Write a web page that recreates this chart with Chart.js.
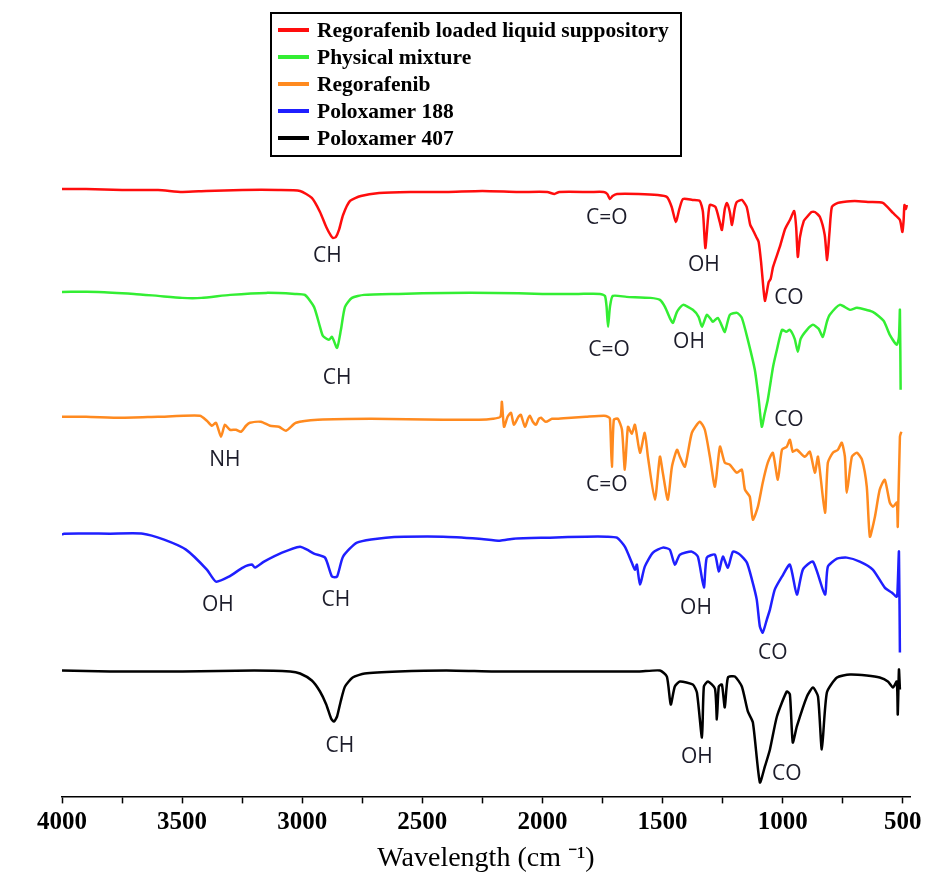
<!DOCTYPE html>
<html><head><meta charset="utf-8">
<script src="https://cdn.jsdelivr.net/npm/chart.js@4/dist/chart.umd.min.js"></script>
<style>html,body{margin:0;padding:0;background:#fff}#wrap{width:928px;height:877px;position:relative}</style>
</head><body><div id="wrap"><canvas id="c"></canvas></div>
<script>
// ---- data (x = wavenumber cm^-1, y = transmittance, arbitrary stacked units) ----
const seriesNames = ['Regorafenib loaded liquid suppository','Physical mixture','Regorafenib','Poloxamer 188','Poloxamer 407'];
const seriesColors = ['#ff0d0d','#33ee33','#ff8a1f','#1f1fff','#000000'];

const liquidSuppository = [[4000,608],[3900,608],[3750,607],[3600,607],[3500,605],[3400,606],[3250,607],[3100,607],[3009,606],[2960,599],[2926,585],[2900,570],[2880,561],[2872,559],[2860,560],[2847,567],[2830,582],[2801,596],[2756,601],[2680,604],[2550,605],[2400,605],[2250,606],[2100,605],[1980,605],[1950,603],[1930,605],[1800,605],[1745,605],[1730,603],[1719,598],[1708,601],[1690,603],[1600,603],[1520,602],[1482,600],[1462,590],[1445,575],[1430,588],[1415,598],[1375,597],[1345,596],[1332,585],[1322,549],[1311,578],[1303,592],[1280,590],[1262,575],[1253,567],[1241,588],[1232,594],[1220,585],[1211,572],[1200,588],[1191,595],[1170,597],[1150,590],[1135,572],[1124,567],[1110,560],[1100,555],[1090,535],[1080,508],[1074,496],[1066,505],[1058,515],[1050,518],[1040,530],[1012,550],[990,568],[970,577],[952,586],[944,570],[937,540],[928,560],[912,576],[899,580],[880,585],[866,585],[845,580],[825,562],[815,537],[805,565],[795,590],[770,594],[749,595],[700,596],[640,595],[583,594],[541,584],[512,577],[502,565],[497,575],[493,592],[487,588],[483,592]];

const physicalMixture = [[4000,505],[3850,505],[3700,503],[3600,501],[3500,499],[3420,499],[3300,502],[3150,504],[3030,503],[2989,502],[2951,490],[2926,470],[2914,461],[2889,457],[2876,460],[2855,449],[2839,467],[2822,490],[2793,499],[2743,502],[2600,503],[2400,504],[2200,504],[2000,503],[1850,503],[1760,503],[1740,501],[1733,490],[1727,470],[1719,490],[1707,501],[1650,500],[1550,499],[1511,497],[1490,490],[1468,478],[1457,474],[1440,485],[1415,492],[1374,487],[1350,480],[1336,470],[1316,482],[1300,478],[1291,475],[1270,479],[1255,472],[1241,465],[1220,482],[1190,484],[1170,479],[1145,457],[1116,427],[1100,398],[1087,370],[1075,383],[1062,397],[1040,430],[1024,447],[1003,467],[985,465],[970,467],[950,458],[937,445],[925,458],[899,467],[874,472],[850,468],[833,460],[816,475],[804,482],[762,492],[720,487],[691,489],[625,485],[580,476],[554,462],[525,452],[516,460],[512,487],[509,407]];

const regorafenib = [[4000,380],[3900,380],[3754,379],[3600,380],[3426,381],[3397,376],[3376,371],[3359,374],[3338,360],[3322,372],[3301,367],[3276,367],[3255,365],[3234,371],[3218,374],[3172,375],[3134,371],[3097,370],[3068,366],[3026,374],[2935,377],[2714,378],[2414,377],[2264,377],[2206,378],[2175,380],[2169,395],[2160,370],[2145,380],[2131,384],[2119,372],[2100,380],[2090,382],[2073,370],[2060,378],[2052,381],[2040,375],[2027,372],[2015,378],[2006,379],[1986,375],[1960,378],[1940,378],[1880,379],[1819,380],[1744,381],[1727,380],[1719,378],[1711,330],[1703,377],[1686,378],[1669,367],[1657,327],[1644,370],[1628,363],[1615,372],[1594,344],[1574,364],[1561,340],[1532,297],[1511,340],[1499,324],[1478,297],[1461,330],[1440,347],[1428,340],[1407,330],[1378,364],[1345,375],[1324,367],[1303,340],[1282,310],[1261,350],[1241,334],[1220,332],[1191,324],[1170,327],[1157,307],[1137,300],[1124,277],[1103,290],[1083,314],[1062,334],[1041,344],[1020,317],[1003,347],[983,350],[970,357],[958,345],[941,347],[908,340],[887,345],[866,324],[853,340],[824,284],[812,334],[791,344],[770,347],[754,354],[741,340],[733,304],[712,340],[691,344],[670,337],[650,310],[637,260],[616,280],[596,307],[575,317],[554,294],[541,290],[525,294],[521,270],[512,360],[506,365]];

const poloxamer188 = [[4000,262],[3992,263],[3800,263],[3663,263],[3575,257],[3484,247],[3397,227],[3359,215],[3305,220],[3247,229],[3209,232],[3197,229],[3159,235],[3084,244],[3009,250],[2980,247],[2951,243],[2905,239],[2876,220],[2855,220],[2830,240],[2772,254],[2652,259],[2414,260],[2264,258],[2177,256],[2119,258],[1969,259],[1819,260],[1732,260],[1690,259],[1657,250],[1628,234],[1615,227],[1607,232],[1594,212],[1574,230],[1540,244],[1499,249],[1470,247],[1449,232],[1428,242],[1378,245],[1353,240],[1328,209],[1316,239],[1282,242],[1266,225],[1249,240],[1228,229],[1207,245],[1178,242],[1149,234],[1128,217],[1108,197],[1095,170],[1083,164],[1066,177],[1053,187],[1033,207],[1003,220],[970,232],[941,202],[916,227],[874,235],[824,202],[812,230],[774,238],[733,239],[679,235],[625,227],[575,209],[546,204],[525,200],[521,212],[516,245],[512,144]];

const poloxamer407 = [[4000,126],[3800,125],[3500,125],[3200,126],[3050,125],[3009,123],[2960,116],[2926,105],[2900,92],[2880,78],[2868,75],[2855,80],[2840,95],[2822,110],[2790,119],[2740,123],[2600,125],[2400,126],[2200,125],[2000,125],[1800,125],[1600,125],[1511,126],[1482,120],[1466,92],[1449,110],[1428,115],[1374,112],[1357,104],[1336,59],[1328,110],[1311,115],[1282,108],[1274,77],[1266,110],[1253,112],[1241,89],[1228,119],[1199,120],[1170,110],[1145,85],[1124,74],[1095,14],[1074,30],[1053,47],[1024,80],[983,105],[970,102],[958,54],[941,70],[899,100],[874,109],[853,100],[837,47],[816,104],[774,119],[720,122],[650,121],[596,119],[562,115],[541,109],[525,115],[521,82],[516,127],[512,107]];

const seriesData = [liquidSuppository, physicalMixture, regorafenib, poloxamer188, poloxamer407];

const xTickValues = [4000,3750,3500,3250,3000,2750,2500,2250,2000,1750,1500,1250,1000,750,500];

const peakLabels = ['CH','C=O','OH','CO','CH','C=O','OH','CO','NH','C=O','OH','CH','OH','CO','CH','OH','CO'];
const peakX = [2895,1732,1328,974, 2855,1723,1390,974, 3322,1732, 3351,2860,1361,1041, 2843,1357,983];
const peakY = [541,579,532,499, 419,447,455,377, 337,312, 192,197,189,144, 50,39,22];

// ---- plugins ----
const boxLegend = {
  id: 'boxLegend',
  afterDraw(chart) {
    const ctx = chart.ctx;
    ctx.save();
    ctx.lineWidth = 2; ctx.strokeStyle = '#000';
    ctx.strokeRect(271, 13, 410, 143);
    ctx.font = 'bold 21.5px "Liberation Serif"';
    ctx.textBaseline = 'middle';
    ctx.textAlign = 'left';
    chart.data.datasets.forEach((ds, i) => {
      const y = 30 + i * 27;
      ctx.strokeStyle = ds.borderColor; ctx.lineWidth = 4;
      ctx.beginPath(); ctx.moveTo(278, y); ctx.lineTo(309, y); ctx.stroke();
      ctx.fillStyle = '#000';
      ctx.fillText(ds.label, 317, y + 1);
    });
    ctx.restore();
  }
};
const peakText = {
  id: 'peakText',
  afterDatasetsDraw(chart) {
    const ctx = chart.ctx, xs = chart.scales.x, ys = chart.scales.y;
    ctx.save();
    ctx.font = '21px "Open Sans"';
    ctx.fillStyle = '#1c1c2a';
    ctx.textAlign = 'center'; ctx.textBaseline = 'middle';
    peakLabels.forEach((t, i) => ctx.fillText(t, xs.getPixelForValue(peakX[i]), ys.getPixelForValue(peakY[i])));
    ctx.restore();
  }
};

new Chart(document.getElementById('c'), {
  type: 'line',
  data: {
    datasets: seriesNames.map((n, i) => ({
      label: n,
      data: seriesData[i].map(p => ({x: p[0], y: p[1]})),
      borderColor: seriesColors[i],
      backgroundColor: seriesColors[i],
      borderWidth: 2.5,
      pointRadius: 0,
      tension: 0.2,
      fill: false
    }))
  },
  options: {
    responsive: true, maintainAspectRatio: false, animation: false,
    layout: {padding: {top: 167, left: 62, right: 18, bottom: 2}},
    plugins: {legend: {display: false}, tooltip: {enabled: false}},
    scales: {
      x: {
        type: 'linear', reverse: true, min: 470, max: 4000,
        afterBuildTicks: s => { s.ticks = xTickValues.map(v => ({value: v})); },
        border: {display: true, color: '#000', width: 1.5},
        grid: {display: true, drawOnChartArea: false, drawTicks: true, tickLength: 7, tickColor: '#000', tickWidth: 1.5},
        ticks: {autoSkip: false, maxRotation: 0, padding: 4, color: '#000',
          font: {family: 'Liberation Serif', size: 25, weight: 'bold'},
          callback: v => (v % 500 === 0 ? String(v) : '')},
        title: {display: true, text: 'Wavelength (cm ⁻¹)', color: '#000',
          font: {family: 'Liberation Serif', size: 28}, padding: {top: 0, bottom: 0}}
      },
      y: {display: false, min: 0, max: 630}
    }
  },
  plugins: [boxLegend, peakText]
});
</script></body></html>
